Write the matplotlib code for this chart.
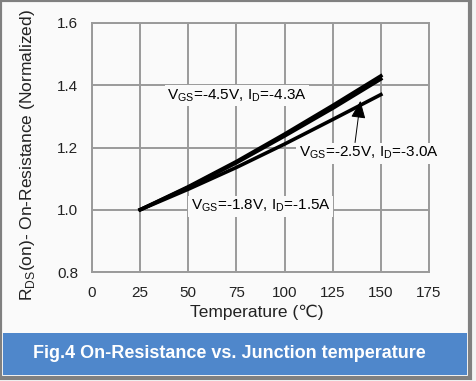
import numpy as np
import matplotlib.pyplot as plt
from matplotlib.patches import Rectangle

plt.rcParams['font.family'] = ['Liberation Sans', 'DejaVu Sans']

# data
temp = [25, 50, 75, 100, 125, 150]
r_45 = [1.0, 1.074, 1.155, 1.243, 1.335, 1.43]
r_18 = [1.0, 1.072, 1.151, 1.237, 1.326, 1.42]
r_25 = [1.0, 1.066, 1.136, 1.211, 1.29, 1.37]

xticks = [0, 25, 50, 75, 100, 125, 150, 175]
yticks = [0.8, 1.0, 1.2, 1.4, 1.6]

fig = plt.figure(figsize=(4.77, 3.81), dpi=100)
fig.patch.set_facecolor('#f4f4f4')

# frame + background
fig.patches.append(Rectangle((0, 0), 470/477, 1, transform=fig.transFigure,
                             facecolor='#fafafa', edgecolor='none', zorder=-3))
fig.patches.append(Rectangle((0, 1 - 378/381), 470/477, 378/381, transform=fig.transFigure,
                             facecolor='none', edgecolor='#808080', lw=3, zorder=-1))
# blue title band
fig.patches.append(Rectangle((3/477, 1 - 375/381), 464/477, 42/381, transform=fig.transFigure,
                             facecolor='#4f87cb', edgecolor='none', zorder=-2))
fig.text(229/477, 1 - 354/381, 'Fig.4 On-Resistance vs. Junction temperature',
         color='white', fontsize=13, fontweight='bold', ha='center', va='center')

ax = fig.add_axes([92/477, 1 - 272/381, 337/477, 249/381])
ax.set_facecolor('#fafafa')
ax.set_xlim(0, 175)
ax.set_ylim(0.8, 1.6)
ax.set_xticks(xticks)
ax.set_yticks(yticks)
ax.set_yticklabels([f'{v:.1f}' for v in yticks])
ax.grid(True, color='#9a9a9a', lw=1.4)
ax.set_axisbelow(True)
for s in ax.spines.values():
    s.set_color('#9a9a9a')
    s.set_linewidth(1.4)
ax.tick_params(length=0, labelsize=11, colors='#222222')
ax.tick_params(axis='x', pad=10)
ax.tick_params(axis='y', pad=10)

ax.plot(temp, r_45, color='black', lw=2.6, zorder=3)
ax.plot(temp, r_18, color='black', lw=2.6, zorder=3)
ax.plot(temp, r_25, color='black', lw=2.6, zorder=3)

ax.set_xlabel('Temperature (\u2103)', fontsize=12.5, color='#222222', va='center')
ax.xaxis.set_label_coords(0.49, -0.16)
ax.set_ylabel('R$_{\\mathregular{DS}}$(on)- On-Resistance (Normalized)', fontsize=12.5,
              color='#222222', va='center')
ax.yaxis.set_label_coords(-0.19, 0.47)

box = dict(facecolor='#fafafa', edgecolor='none', pad=1.5)
lab = 'V$_{\\mathregular{GS}}$=%s, I$_{\\mathregular{D}}$=%s'
ax.text(75.3, 1.368, lab % ('-4.5V', '-4.3A'),
        fontsize=11, ha='center', va='center', bbox=box, zorder=2)
ax.text(87.5, 1.012, lab % ('-1.8V', '-1.5A'),
        fontsize=11, ha='center', va='center', bbox=box, zorder=2)
ax.text(143.6, 1.182, lab % ('-2.5V', '-3.0A'),
        fontsize=11, ha='center', va='center', bbox=box, zorder=4)
ax.annotate('', xy=(139.4, 1.35), xytext=(136.6, 1.216),
            arrowprops=dict(arrowstyle='-|>,head_length=0.6,head_width=0.25',
                            color='black', lw=0.7,
                            mutation_scale=18, shrinkA=0, shrinkB=0), zorder=4)

fig.savefig('out.png', dpi=100)
